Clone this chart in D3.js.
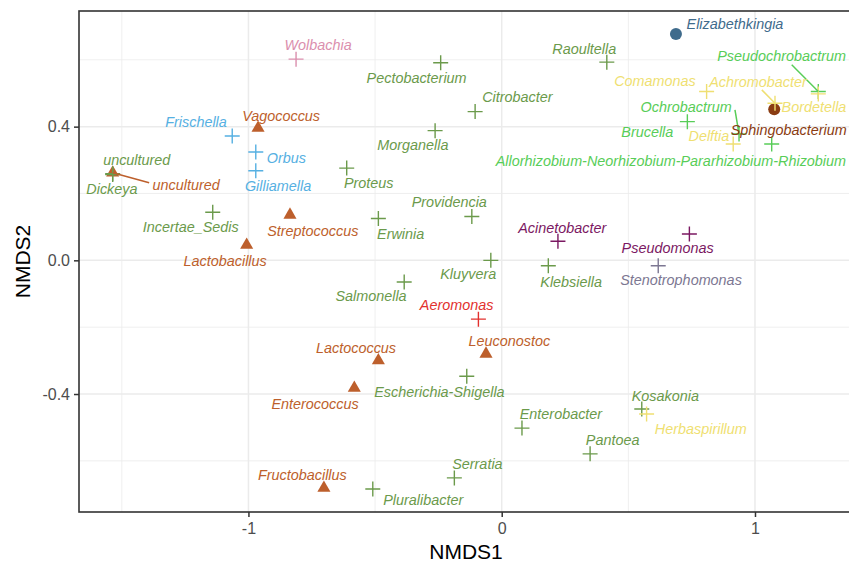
<!DOCTYPE html>
<html>
<head>
<meta charset="utf-8">
<script src="https://cdn.jsdelivr.net/npm/d3@7"></script>
<style>
  body { margin: 0; background: #fff; }
  svg { display: block; font-family: "Liberation Sans", Arial, sans-serif; }
</style>
</head>
<body>
<svg id="chart" width="849" height="564"></svg>
<script>
// genus names, NMDS scores and where the repelled labels ended up (all in NMDS units)
const genus = ["Wolbachia", "Frischella", "Vagococcus", "Orbus", "Gilliamella", "uncultured", "Dickeya", "uncultured",
  "Proteus", "Incertae_Sedis", "Streptococcus", "Lactobacillus", "Pectobacterium", "Raoultella", "Citrobacter",
  "Morganella", "Providencia", "Erwinia", "Acinetobacter", "Kluyvera", "Klebsiella", "Stenotrophomonas",
  "Elizabethkingia", "Pseudochrobactrum", "Bordetella", "Achromobacter", "Sphingobacterium", "Comamonas",
  "Ochrobactrum", "Brucella", "Delftia", "Allorhizobium-Neorhizobium-Pararhizobium-Rhizobium", "Pseudomonas",
  "Salmonella", "Aeromonas", "Leuconostoc", "Lactococcus", "Escherichia-Shigella", "Enterobacter", "Pantoea",
  "Serratia", "Pluralibacter", "Enterococcus", "Fructobacillus", "Kosakonia", "Herbaspirillum"];

const nmds1 = [-0.812, -1.064, -0.962, -0.971, -0.971, -1.536, -1.536, -1.536,
  -0.612, -1.141, -0.836, -1.007, -0.241, 0.415, -0.105,
  -0.263, -0.118, -0.487, 0.222, -0.043, 0.184, 0.618,
  0.688, 1.250, 1.250, 1.079, 1.076, 0.809,
  0.937, 0.733, 0.914, 1.066, 0.741,
  -0.385, -0.092, -0.062, -0.487, -0.138, 0.080, 0.349,
  -0.187, -0.509, -0.582, -0.702, 0.553, 0.572];

const nmds2 = [0.602, 0.372, 0.396, 0.324, 0.268, 0.259, 0.257, 0.262,
  0.276, 0.144, 0.136, 0.046, 0.591, 0.593, 0.445,
  0.388, 0.131, 0.125, 0.057, 0.000, -0.016, -0.016,
  0.677, 0.505, 0.498, 0.470, 0.452, 0.505,
  0.378, 0.415, 0.348, 0.348, 0.079,
  -0.065, -0.176, -0.280, -0.300, -0.347, -0.502, -0.579,
  -0.651, -0.684, -0.382, -0.681, -0.445, -0.460];

const labelX = [-0.725, -1.207, -0.871, -0.850, -0.883, -1.441, -1.539, -1.246,
  -0.525, -1.228, -0.746, -1.092, -0.336, 0.326, 0.062,
  -0.351, -0.207, -0.399, 0.239, -0.132, 0.274, 0.708,
  0.921, 1.105, 1.233, 1.012, 1.133, 0.605,
  0.728, 0.575, 0.818, 0.668, 0.655,
  -0.516, -0.178, 0.030, -0.575, -0.246, 0.234, 0.438,
  -0.096, -0.310, -0.737, -0.787, 0.646, 0.786];

const labelY = [0.645, 0.414, 0.431, 0.306, 0.224, 0.300, 0.214, 0.226,
  0.232, 0.100, 0.089, -0.001, 0.545, 0.633, 0.488,
  0.345, 0.175, 0.079, 0.098, -0.041, -0.064, -0.059,
  0.706, 0.611, 0.458, 0.535, 0.390, 0.537,
  0.460, 0.385, 0.372, 0.297, 0.037,
  -0.106, -0.133, -0.241, -0.262, -0.394, -0.459, -0.538,
  -0.608, -0.716, -0.429, -0.643, -0.405, -0.505];

// start of the leader line for the few labels that were pushed away (null = none)
const segX = [null, null, null, null, null, null, null, -1.392,
  null, null, null, null, null, null, null,
  null, null, null, null, null, null, null,
  null, 1.145, null, 1.027, null, null,
  0.921, null, null, null, null,
  null, null, null, null, null, null, null,
  null, null, null, null, null, null];
const segY = [null, null, null, null, null, null, null, 0.232,
  null, null, null, null, null, null, null,
  null, null, null, null, null, null, null,
  null, 0.585, null, 0.510, null, null,
  0.450, null, null, null, null,
  null, null, null, null, null, null, null,
  null, null, null, null, null, null];

const order = ["Rickettsiales", "Orbales", "Lactobacillales", "Orbales", "Orbales", "Enterobacterales", "Enterobacterales", "Lactobacillales",
  "Enterobacterales", "Enterobacterales", "Lactobacillales", "Lactobacillales", "Enterobacterales", "Enterobacterales", "Enterobacterales",
  "Enterobacterales", "Enterobacterales", "Enterobacterales", "Pseudomonadales", "Enterobacterales", "Enterobacterales", "Xanthomonadales",
  "Flavobacteriales", "Rhizobiales", "Burkholderiales", "Burkholderiales", "Sphingobacteriales", "Burkholderiales",
  "Rhizobiales", "Rhizobiales", "Burkholderiales", "Rhizobiales", "Pseudomonadales",
  "Enterobacterales", "Aeromonadales", "Lactobacillales", "Lactobacillales", "Enterobacterales", "Enterobacterales", "Enterobacterales",
  "Enterobacterales", "Enterobacterales", "Lactobacillales", "Lactobacillales", "Enterobacterales", "Burkholderiales"];

const phylum = genus.map((g, i) =>
  order[i] === "Lactobacillales" ? "Firmicutes" :
  (order[i] === "Flavobacteriales" || order[i] === "Sphingobacteriales") ? "Bacteroidetes" : "Proteobacteria");

const orderNames = ["Enterobacterales", "Rhizobiales", "Burkholderiales", "Orbales", "Rickettsiales",
  "Lactobacillales", "Flavobacteriales", "Sphingobacteriales", "Pseudomonadales", "Xanthomonadales", "Aeromonadales"];
const orderColors = ["#6b9a4b", "#58cd58", "#efdf72", "#56b0e2", "#db8fae",
  "#bd5f2c", "#3f6b8c", "#8a3c12", "#7b1862", "#7c7792", "#e2312e"];

const xTicks = [-1, 0, 1];
const yTicks = [-0.4, 0, 0.4];
const xMinor = [-1.5, -0.5, 0.5];
const yMinor = [-0.6, -0.2, 0.2, 0.6];

const data = genus.map((g, i) => ({
  genus: g, x: nmds1[i], y: nmds2[i], lx: labelX[i], ly: labelY[i],
  sx: segX[i], sy: segY[i], order: order[i], phylum: phylum[i]
}));

const svg = d3.select("#chart");
const pL = 79, pT = 11, pR = 853, pB = 512;

const x = d3.scaleLinear().domain([-1.669, 1.387]).range([pL, pR]);
const y = d3.scaleLinear().domain([-0.753, 0.746]).range([pB, pT]);
const color = d3.scaleOrdinal().domain(orderNames).range(orderColors);

// grid
const grid = svg.append("g");
grid.selectAll(".vminor").data(xMinor).enter().append("line")
  .attr("x1", d => x(d)).attr("x2", d => x(d)).attr("y1", pT).attr("y2", pB)
  .attr("stroke", "#ebebeb").attr("stroke-width", 0.8);
grid.selectAll(".hminor").data(yMinor).enter().append("line")
  .attr("y1", d => y(d)).attr("y2", d => y(d)).attr("x1", pL).attr("x2", pR)
  .attr("stroke", "#ebebeb").attr("stroke-width", 0.8);
grid.selectAll(".vmajor").data(xTicks).enter().append("line")
  .attr("x1", d => x(d)).attr("x2", d => x(d)).attr("y1", pT).attr("y2", pB)
  .attr("stroke", "#ebebeb").attr("stroke-width", 1.5);
grid.selectAll(".hmajor").data(yTicks).enter().append("line")
  .attr("y1", d => y(d)).attr("y2", d => y(d)).attr("x1", pL).attr("x2", pR)
  .attr("stroke", "#ebebeb").attr("stroke-width", 1.5);

// points: circles and triangles first, crosses on top
const pts = svg.append("g");
pts.selectAll(".dot").data(data.filter(d => d.phylum === "Bacteroidetes")).enter().append("circle")
  .attr("cx", d => x(d.x)).attr("cy", d => y(d.y)).attr("r", 6)
  .attr("fill", d => color(d.order));
pts.selectAll(".tri").data(data.filter(d => d.phylum === "Firmicutes")).enter().append("path")
  .attr("transform", d => `translate(${x(d.x)},${y(d.y)})`)
  .attr("d", d3.symbol(d3.symbolTriangle, 74))
  .attr("fill", d => color(d.order));
pts.selectAll(".cross").data(data.filter(d => d.phylum === "Proteobacteria")).enter().append("path")
  .attr("transform", d => `translate(${x(d.x)},${y(d.y)})`)
  .attr("d", "M-7.5,0H7.5M0,-7.5V7.5")
  .attr("fill", "none").attr("stroke", d => color(d.order)).attr("stroke-width", 1.4);

// leader lines
svg.append("g").selectAll("line").data(data.filter(d => d.sx !== null)).enter().append("line")
  .attr("x1", d => x(d.sx)).attr("y1", d => y(d.sy))
  .attr("x2", d => x(d.x)).attr("y2", d => y(d.y))
  .attr("stroke", d => color(d.order)).attr("stroke-width", 1.5);

// labels
svg.append("g").selectAll("text").data(data).enter().append("text")
  .attr("x", d => x(d.lx)).attr("y", d => y(d.ly)).attr("dy", "0.35em")
  .attr("text-anchor", "middle")
  .attr("font-size", 14.4).attr("font-style", "italic")
  .attr("fill", d => color(d.order))
  .text(d => d.genus);

// panel border
svg.append("rect").attr("x", pL).attr("y", pT).attr("width", pR - pL).attr("height", pB - pT)
  .attr("fill", "none").attr("stroke", "#333333").attr("stroke-width", 1.6);

// axes
const xAxis = svg.append("g").attr("transform", `translate(0,${pB})`)
  .call(d3.axisBottom(x).tickValues(xTicks).tickSize(5).tickPadding(6).tickFormat(d => String(d)));
const yAxis = svg.append("g").attr("transform", `translate(${pL},0)`)
  .call(d3.axisLeft(y).tickValues(yTicks).tickSize(5).tickPadding(4).tickFormat(d => d.toFixed(1)));
[xAxis, yAxis].forEach(a => {
  a.select(".domain").remove();
  a.selectAll(".tick line").attr("stroke", "#333333").attr("stroke-width", 1.5);
  a.selectAll(".tick text").attr("fill", "#4d4d4d").attr("font-size", 16)
    .attr("font-family", "Liberation Sans, Arial, sans-serif");
});

svg.append("text").attr("x", (pL + pR) / 2).attr("y", 559)
  .attr("text-anchor", "middle").attr("font-size", 21).attr("fill", "#000").text("NMDS1");
svg.append("text").attr("transform", `translate(30,${(pT + pB) / 2}) rotate(-90)`)
  .attr("text-anchor", "middle").attr("font-size", 21).attr("fill", "#000").text("NMDS2");
</script>
</body>
</html>
